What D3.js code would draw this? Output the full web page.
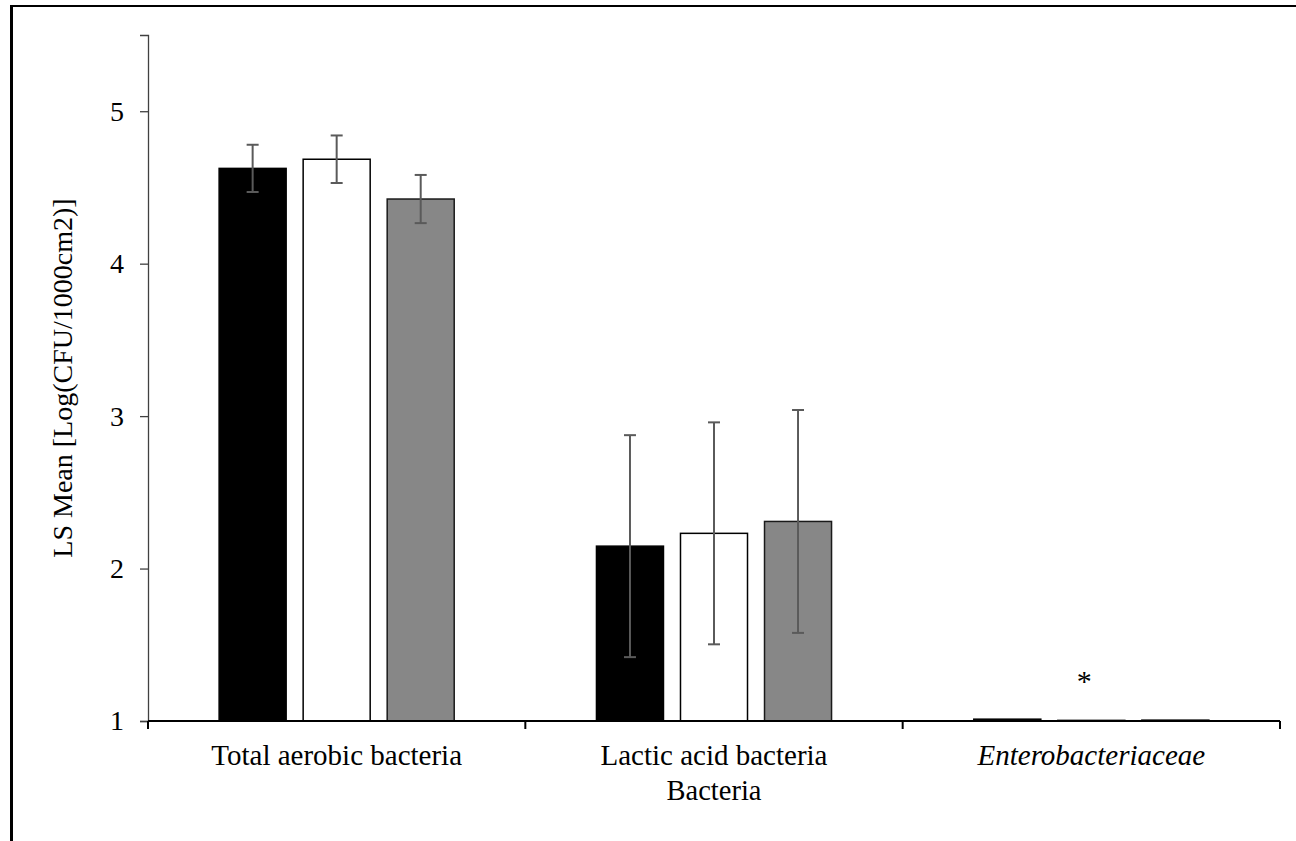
<!DOCTYPE html>
<html>
<head>
<meta charset="utf-8">
<script src="https://cdn.jsdelivr.net/npm/d3@7"></script>
<style>
  html, body { margin: 0; padding: 0; background: #fff; }
  svg { display: block; }
  text { font-family: "Liberation Serif", "Times New Roman", serif; fill: #000; }
</style>
</head>
<body>
<svg id="chart" width="1296" height="841"></svg>
<script>
// ---- data ----
const categories = ["Total aerobic bacteria", "Lactic acid bacteria", "Enterobacteriaceae"];
const seriesNames = ["Group 1", "Group 2", "Group 3"];
const seriesFill = ["#000000", "#ffffff", "#878787"];
const valuesG1 = [4.625, 2.147, 1.012];
const valuesG2 = [4.685, 2.231, 1.004];
const valuesG3 = [4.424, 2.309, 1.006];
const errorsG1 = [0.155, 0.728, 0];
const errorsG2 = [0.156, 0.728, 0];
const errorsG3 = [0.158, 0.731, 0];
const yTicks = [1, 2, 3, 4, 5];
const annotations = [{ category: "Enterobacteriaceae", series: "Group 2", text: "*" }];

const values = [valuesG1, valuesG2, valuesG3];
const errors = [errorsG1, errorsG2, errorsG3];

(function () {
const svg = d3.select("#chart");

// frame lines (partial border)
svg.append("line").attr("x1", 11.5).attr("x2", 11.5).attr("y1", 5).attr("y2", 841)
  .attr("stroke", "#000").attr("stroke-width", 3);
svg.append("line").attr("x1", 10).attr("x2", 1296).attr("y1", 6).attr("y2", 6)
  .attr("stroke", "#000").attr("stroke-width", 2);

const mLeft = 148, mRight = 1280, mTop = 35, mBottom = 721;

const y = d3.scaleLinear().domain([1, 5.5]).range([mBottom, mTop]);
const x0 = d3.scaleBand().domain(categories).range([mLeft, mRight])
  .paddingInner(0.377).paddingOuter(0.1885);
const x1 = d3.scaleBand().domain(seriesNames).range([0, x0.bandwidth()])
  .paddingInner(0.2024).paddingOuter(0);

const rows = [];
categories.forEach((c, ci) => {
  seriesNames.forEach((s, si) => {
    rows.push({ c, s, si, v: values[si][ci], e: errors[si][ci] });
  });
});

// bars
const g = svg.append("g");
g.selectAll("rect.bar").data(rows).join("rect")
  .attr("class", "bar")
  .attr("x", d => x0(d.c) + x1(d.s))
  .attr("width", x1.bandwidth())
  .attr("y", d => y(d.v))
  .attr("height", d => y(1) - y(d.v))
  .attr("fill", d => seriesFill[d.si])
  .attr("stroke", d => d.si === 2 ? "#1a1a1a" : "#000")
  .attr("stroke-width", 1.5);

// error bars
const eb = rows.filter(d => d.e > 0);
const cx = d => x0(d.c) + x1(d.s) + x1.bandwidth() / 2;
const capW = 6;
const ebColor = "#5a5a5a";
g.selectAll("line.err").data(eb).join("line")
  .attr("x1", cx).attr("x2", cx)
  .attr("y1", d => y(d.v + d.e)).attr("y2", d => y(d.v - d.e))
  .attr("stroke", ebColor).attr("stroke-width", 2);
g.selectAll("line.capT").data(eb).join("line")
  .attr("x1", d => cx(d) - capW).attr("x2", d => cx(d) + capW)
  .attr("y1", d => y(d.v + d.e)).attr("y2", d => y(d.v + d.e))
  .attr("stroke", ebColor).attr("stroke-width", 2);
g.selectAll("line.capB").data(eb).join("line")
  .attr("x1", d => cx(d) - capW).attr("x2", d => cx(d) + capW)
  .attr("y1", d => y(d.v - d.e)).attr("y2", d => y(d.v - d.e))
  .attr("stroke", ebColor).attr("stroke-width", 2);

// y axis
const yAxis = d3.axisLeft(y).tickValues(yTicks).tickSize(8).tickPadding(16).tickFormat(d3.format("d"));
const ya = svg.append("g").attr("transform", `translate(${mLeft},0)`).call(yAxis);
ya.select(".domain").attr("stroke", "#404040").attr("stroke-width", 1.3);
ya.selectAll(".tick line").attr("stroke", "#404040").attr("stroke-width", 1.3);
ya.selectAll(".tick text").style("font-size", "28px").attr("fill", "#000")
  .style("font-family", '"Liberation Serif", serif');

// x axis
const xa = svg.append("g").attr("transform", `translate(0,${mBottom})`);
xa.append("line").attr("x1", mLeft).attr("x2", mRight).attr("y1", 0).attr("y2", 0)
  .attr("stroke", "#000").attr("stroke-width", 2);
const step = x0.step();
const boundaries = [mLeft].concat(categories.map(c => x0(c) - x0.paddingOuter() * step + step));
xa.selectAll("line.xt").data(boundaries).join("line")
  .attr("x1", d => d).attr("x2", d => d).attr("y1", 0).attr("y2", 8)
  .attr("stroke", "#000").attr("stroke-width", 2);
xa.selectAll("text.xl").data(categories).join("text")
  .attr("x", c => x0(c) + x0.bandwidth() / 2)
  .attr("y", 44)
  .attr("text-anchor", "middle")
  .style("font-size", "29px")
  .style("font-style", c => c === "Enterobacteriaceae" ? "italic" : "normal")
  .text(c => c);

// axis titles
svg.append("text").attr("x", (mLeft + mRight) / 2).attr("y", 800)
  .attr("text-anchor", "middle").style("font-size", "28.5px").text("Bacteria");
svg.append("text")
  .attr("transform", `translate(72,${(mTop + mBottom) / 2}) rotate(-90)`)
  .attr("text-anchor", "middle").style("font-size", "28px")
  .text("LS Mean [Log(CFU/1000cm2)]");

// annotations
svg.selectAll("text.ann").data(annotations).join("text")
  .attr("x", d => x0(d.category) + x1(d.series) + x1.bandwidth() / 2 - 7)
  .attr("y", d => y(1.2))
  .attr("text-anchor", "middle").style("font-size", "30px")
  .text(d => d.text);
})();
</script>
</body>
</html>
